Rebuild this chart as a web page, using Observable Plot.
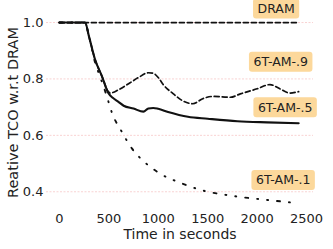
<!DOCTYPE html>
<html>
<head>
<meta charset="utf-8">
<script src="https://cdn.jsdelivr.net/npm/d3@7"></script>
<script src="https://cdn.jsdelivr.net/npm/@observablehq/plot@0.6"></script>
<style>
  html, body { margin: 0; padding: 0; background: #fff; }
  svg { display: block; }
</style>
</head>
<body>
<script>
// ---- data ----
const dramT = [0, 2420];
const dramV = [1.0, 1.0];

const am9T = [0, 260, 300, 360, 430, 495, 515, 600, 700, 800, 900, 950, 1000, 1050, 1150, 1250, 1350, 1450, 1550, 1730, 1830, 2000, 2130, 2230, 2330, 2420];
const am9V = [1.0, 1.0, 0.95, 0.87, 0.81, 0.755, 0.75, 0.762, 0.783, 0.805, 0.822, 0.82, 0.805, 0.78, 0.748, 0.722, 0.712, 0.73, 0.738, 0.735, 0.747, 0.765, 0.78, 0.765, 0.75, 0.755];

const am5T = [0, 260, 300, 360, 430, 495, 540, 600, 650, 750, 850, 900, 950, 1000, 1100, 1300, 1500, 1800, 2100, 2420];
const am5V = [1.0, 1.0, 0.95, 0.87, 0.81, 0.75, 0.733, 0.718, 0.705, 0.695, 0.684, 0.695, 0.697, 0.694, 0.683, 0.666, 0.659, 0.65, 0.646, 0.643];

const am1T = [0, 260, 300, 360, 420, 475, 535, 626, 737, 869, 1020, 1222, 1424, 1758, 2100, 2404];
const am1V = [1.0, 1.0, 0.95, 0.86, 0.8, 0.744, 0.677, 0.616, 0.552, 0.503, 0.464, 0.432, 0.407, 0.385, 0.371, 0.36];

const labelNames = ["DRAM", "6T-AM-.9", "6T-AM-.5", "6T-AM-.1"];
const labelT = [2192, 2238, 2283, 2263];
const labelV = [1.048, 0.859, 0.698, 0.440];

const xTicks = [0, 500, 1000, 1500, 2000, 2500];
const yTicks = [0.4, 0.6, 0.8, 1.0];
const xLabel = "Time in seconds";
const yLabel = "Reative TCO w.r.t DRAM";

// ---- build ----
const toRows = (T, V) => T.map((t, i) => ({t, v: V[i]}));
const labels = labelNames.map((name, i) => ({name, t: labelT[i], v: labelV[i]}));

const chart = Plot.plot({
  width: 333,
  height: 249,
  marginLeft: 46,
  marginRight: 20,
  marginTop: 13,
  marginBottom: 38,
  style: {fontFamily: "DejaVu Sans", fontSize: "12px", color: "#222", background: "#fff"},
  x: {domain: [-130, 2570]},
  y: {domain: [0.33, 1.032]},
  marks: [
    Plot.ruleY(yTicks, {stroke: "#f29a9a", strokeOpacity: 0.55, strokeWidth: 0.8, strokeDasharray: "2,1.5"}),
    Plot.axisX({ticks: xTicks, tickSize: 0, tickPadding: 2, line: true, tickFormat: d => String(d),
      label: null, fontSize: 13, stroke: "#333"}),
    Plot.axisY({ticks: yTicks, tickSize: 0, tickPadding: 3, line: true, tickFormat: d => d.toFixed(1),
      label: null, fontSize: 13, stroke: "#333"}),
    Plot.text([xLabel], {frameAnchor: "bottom", dy: 23, fontSize: 14, fill: "#222", lineAnchor: "middle"}),
    Plot.text([yLabel], {frameAnchor: "left", dx: -33, rotate: -90, textAnchor: "middle", fontSize: 14.5, fill: "#222"}),
    Plot.line(toRows(dramT, dramV), {x: "t", y: "v", stroke: "#111", strokeWidth: 1.7, strokeDasharray: "5,3"}),
    Plot.line(toRows(am9T, am9V), {x: "t", y: "v", stroke: "#111", strokeWidth: 1.7, strokeDasharray: "5,3", curve: "monotone-x"}),
    Plot.line(toRows(am5T, am5V), {x: "t", y: "v", stroke: "#111", strokeWidth: 2.1, curve: "monotone-x"}),
    Plot.line(toRows(am1T, am1V), {x: "t", y: "v", stroke: "#111", strokeWidth: 1.9, strokeDasharray: "3,9,1,9,1,9", curve: "monotone-x"}),
    Plot.text(labels, {x: "t", y: "v", text: "name", fontSize: 12.5, fill: "#222"})
  ]
});
document.body.append(chart);

// rounded boxes behind the series labels
const ns = "http://www.w3.org/2000/svg";
chart.querySelectorAll('text').forEach(t => {
  if (!labelNames.includes(t.textContent)) return;
  const b = t.getBBox();
  const r = document.createElementNS(ns, "rect");
  const px = 4.5, py = 3;
  r.setAttribute("x", b.x - px);
  r.setAttribute("y", b.y - py + 0.5);
  r.setAttribute("width", b.width + 2 * px);
  r.setAttribute("height", b.height + 2 * py - 1);
  r.setAttribute("rx", 3);
  r.setAttribute("fill", "#fcd89b");
  r.setAttribute("stroke", "none");
  if (t.getAttribute("transform")) r.setAttribute("transform", t.getAttribute("transform"));
  t.parentNode.insertBefore(r, t);
});
</script>
</body>
</html>
